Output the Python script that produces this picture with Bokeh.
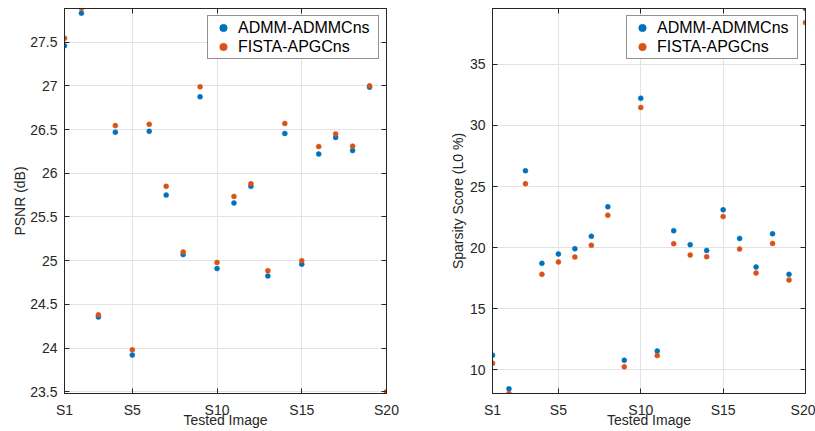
from bokeh.plotting import figure
from bokeh.layouts import row
from bokeh.models import (FixedTicker, CustomJSTickFormatter, Legend, LegendItem,
                          LinearAxis, Range1d, ColumnDataSource)
from bokeh.embed import file_html
from bokeh.resources import INLINE

images = list(range(1, 21))
x_tick_values = [1, 5, 10, 15, 20]
x_tick_labels = ["S1", "S5", "S10", "S15", "S20"]

psnr_admm = [27.46, 27.83, 24.355, 26.47, 23.92, 26.48, 25.75, 25.07, 26.875, 24.91,
             25.66, 25.85, 24.825, 26.455, 24.96, 26.22, 26.41, 26.26, 26.985, 23.48]
psnr_fista = [27.545, 27.885, 24.38, 26.545, 23.98, 26.56, 25.85, 25.10, 26.99, 24.98,
              25.735, 25.88, 24.885, 26.57, 25.0, 26.305, 26.45, 26.31, 27.0, 23.5]
psnr_ticks = [23.5, 24, 24.5, 25, 25.5, 26, 26.5, 27, 27.5]

sparsity_admm = [11.2, 8.45, 26.3, 18.72, 19.48, 19.92, 20.93, 23.35, 10.79, 32.23,
                 11.55, 21.39, 20.25, 19.78, 23.1, 20.76, 18.42, 21.14, 17.82, 39.57]
sparsity_fista = [10.55, 8.07, 25.24, 17.82, 18.83, 19.24, 20.19, 22.66, 10.25, 31.47,
                  11.17, 20.33, 19.4, 19.26, 22.55, 19.89, 17.93, 20.35, 17.36, 38.42]
sparsity_ticks = [10, 15, 20, 25, 30, 35]

series_names = ["ADMM-ADMMCns", "FISTA-APGCns"]
series_colors = ["#0072BD", "#D95319"]
x_label = "Tested Image"

FONT = "Liberation Sans"
DARK = "#262626"


def make_panel(width, border_left, border_right, yvals_list, yticks, ylabel, ylab_standoff):
    allv = [v for ys in yvals_list for v in ys]
    p = figure(width=width, height=431, output_backend="svg", toolbar_location=None,
               x_range=Range1d(1, 20), y_range=Range1d(min(allv), max(allv)),
               min_border_left=border_left, min_border_right=border_right,
               min_border_top=8, min_border_bottom=38)
    p.background_fill_color = "white"
    p.border_fill_color = "white"
    p.outline_line_color = DARK
    p.outline_line_width = 1

    items = []
    for ys, name, col in zip(yvals_list, series_names, series_colors):
        src = ColumnDataSource(dict(x=images, y=ys))
        r = p.scatter("x", "y", source=src, size=5, fill_color=col, line_color=col,
                      line_width=0.5)
        items.append(LegendItem(label=name, renderers=[r]))

    fmt = CustomJSTickFormatter(code="return tick.toString();")
    blank = CustomJSTickFormatter(code="return '';")
    xover = {v: l for v, l in zip(x_tick_values, x_tick_labels)}

    for ax in p.xaxis:
        ax.ticker = FixedTicker(ticks=x_tick_values)
        ax.major_label_overrides = xover
        ax.axis_label = x_label
    for ax in p.yaxis:
        ax.ticker = FixedTicker(ticks=yticks)
        ax.formatter = fmt
        ax.axis_label = ylabel

    for ax in list(p.xaxis) + list(p.yaxis):
        ax.axis_line_color = DARK
        ax.major_tick_line_color = DARK
        ax.major_tick_in = 5
        ax.major_tick_out = 0
        ax.minor_tick_line_color = None
        ax.major_label_text_font = FONT
        ax.major_label_text_font_size = "14px"
        ax.major_label_text_color = DARK
        ax.axis_label_text_font = FONT
        ax.axis_label_text_font_size = "14px"
        ax.axis_label_text_color = DARK
        ax.axis_label_text_font_style = "normal"
    for ax in p.xaxis:
        ax.major_label_standoff = 8
        ax.axis_label_standoff = -9
    for ax in p.yaxis:
        ax.major_label_standoff = 7
        ax.axis_label_standoff = ylab_standoff

    # mirrored ticks on top and right (MATLAB box style)
    ra = LinearAxis(ticker=FixedTicker(ticks=yticks), formatter=blank,
                    major_tick_in=5, major_tick_out=0,
                    minor_tick_line_color=None, axis_line_color=DARK,
                    major_tick_line_color=DARK, major_label_standoff=0)
    p.add_layout(ra, "right")
    ta = LinearAxis(ticker=FixedTicker(ticks=x_tick_values), formatter=blank,
                    major_tick_in=5, major_tick_out=0,
                    minor_tick_line_color=None, axis_line_color=DARK,
                    major_tick_line_color=DARK, major_label_standoff=0)
    p.add_layout(ta, "above")

    p.xgrid.ticker = FixedTicker(ticks=x_tick_values)
    p.ygrid.ticker = FixedTicker(ticks=yticks)
    for g in (p.xgrid[0], p.ygrid[0]):
        g.grid_line_color = "#e3e3e3"
        g.grid_line_width = 1

    legend = Legend(items=items, location="top_right", margin=7, padding=2, spacing=0,
                    glyph_width=26, glyph_height=19, label_height=19, label_standoff=2,
                    label_width=138, label_text_font=FONT, label_text_font_size="16px",
                    label_text_color="black", border_line_color=DARK, border_line_width=1,
                    background_fill_color="white", background_fill_alpha=1)
    p.add_layout(legend)
    return p


p1 = make_panel(407, 64, 21, [psnr_admm, psnr_fista], psnr_ticks, "PSNR (dB)", -1)
p2 = make_panel(408, 85, 10, [sparsity_admm, sparsity_fista], sparsity_ticks,
                "Sparsity Score (L0 %)", 1)

layout = row(p1, p2)
open("out.html", "w").write(file_html(layout, INLINE))
